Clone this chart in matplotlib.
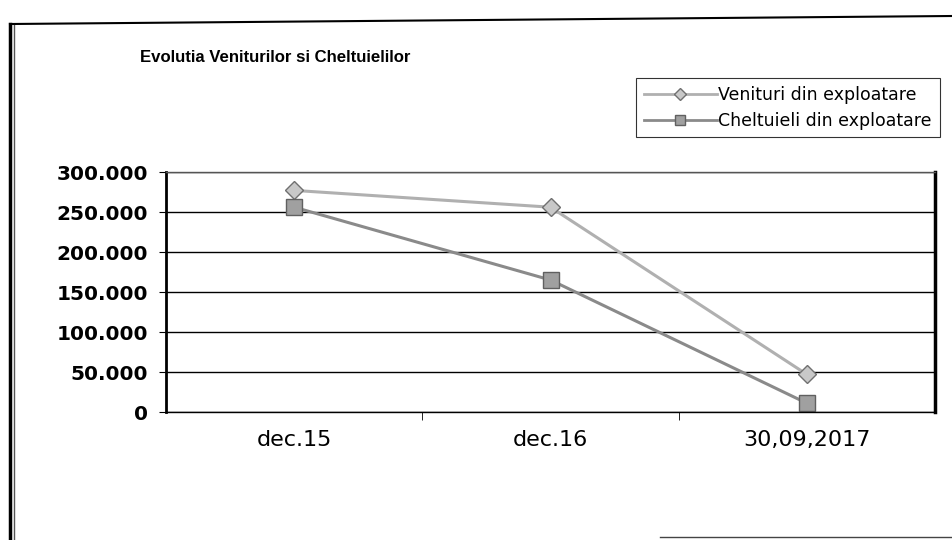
import matplotlib
matplotlib.use("Agg")
from matplotlib import pylab as plt
from matplotlib.lines import Line2D

categories = ['dec.15', 'dec.16', '30,09,2017']
venituri = [277000, 256000, 47000]
cheltuieli = [256000, 165000, 11000]
yticks = [0, 50000, 100000, 150000, 200000, 250000, 300000]
ylabels = ['0', '50.000', '100.000', '150.000', '200.000', '250.000', '300.000']

fig = plt.figure(figsize=(9.52, 5.4), dpi=100)
ax = fig.add_axes([166/952, 1-412/540, (935-166)/952, (412-172)/540])

x = list(range(len(categories)))
ax.plot(x, venituri, color='#b0b0b0', lw=2.2, marker='D', ms=9,
        mfc='#c8c8c8', mec='#707070', mew=1)
ax.plot(x, cheltuieli, color='#8a8a8a', lw=2.2, marker='s', ms=12,
        mfc='#a0a0a0', mec='#606060', mew=1)

ax.set_xlim(-0.5, 2.5)
ax.set_ylim(0, 300000)
ax.set_yticks(yticks)
ax.set_yticklabels(ylabels, fontsize=14.5, fontweight='bold', family='DejaVu Sans')
ax.set_xticks(x)
ax.set_xticklabels(categories, fontsize=16)
ax.tick_params(axis='x', length=0, pad=13)
ax.set_xticks([0.5, 1.5], minor=True)
ax.tick_params(axis='x', which='minor', length=6, direction='out', color='black')
ax.tick_params(axis='y', length=5, direction='out', pad=8)
ax.yaxis.grid(True, color='black', lw=1)
ax.set_axisbelow(True)

ax.spines['left'].set_linewidth(2)
ax.spines['right'].set_linewidth(2.5)
ax.spines['top'].set_color('#555555')
ax.spines['top'].set_linewidth(1)
ax.spines['bottom'].set_linewidth(1)

fig.text(140/952, 1-57/540, 'Evolutia Veniturilor si Cheltuielilor', fontsize=12.1,
         fontweight='bold', family='Liberation Sans', va='center')

handles = [
    Line2D([], [], color='#b0b0b0', lw=2, marker='D', ms=6, mfc='#c8c8c8', mec='#707070'),
    Line2D([], [], color='#8a8a8a', lw=2, marker='s', ms=7, mfc='#a0a0a0', mec='#606060'),
]
leg = fig.legend(handles, ['Venituri din exploatare', 'Cheltuieli din exploatare'],
                 loc='upper left', bbox_to_anchor=(636/952, 1-78/540), fontsize=12.5,
                 frameon=True, fancybox=False, edgecolor='black', handlelength=4.2,
                 handletextpad=0.1, borderpad=0.45, labelspacing=0.45, borderaxespad=0)
leg.get_frame().set_linewidth(0.8)

# outer chart frame
fig.add_artist(Line2D([10/952, 10/952], [0, 1-24/540], color='black', lw=2.5))
fig.add_artist(Line2D([14/952, 14/952], [0, 1-24/540], color='#555555', lw=1))
fig.add_artist(Line2D([10/952, 1], [1-24/540, 1-16/540], color='black', lw=1.5))
fig.add_artist(Line2D([660/952, 1], [1-537/540, 1-537/540], color='#444444', lw=1))

fig.savefig('out.png', dpi=100)
